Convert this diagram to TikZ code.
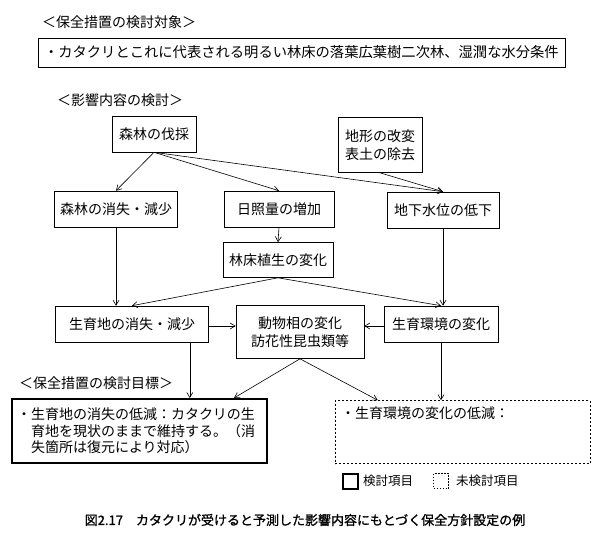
\documentclass[tikz,border=0pt]{standalone}
\usepackage{fontspec}
\setmainfont{Noto Sans CJK JP}
\newfontfamily\capfont[FakeBold=1]{Noto Sans CJK JP}
\usetikzlibrary{arrows.meta}
\begin{document}
\begin{tikzpicture}[x=1pt,y=-1pt,
  font=\fontsize{14}{18.5}\selectfont,
  box/.style={draw, line width=0.6pt, inner sep=0pt, minimum height=36pt, align=center},
  arr/.style={-{Straight Barb[length=5pt,width=6pt]}, line width=0.6pt},
  heading/.style={anchor=west, inner sep=0pt},
  legendtext/.style={anchor=west, inner sep=0pt, font=\fontsize{12.5}{15}\selectfont}]
\useasboundingbox (0,0) rectangle (600,555);
\fill[white] (0,0) rectangle (600,555);

\node[heading] (t1) at (42,22) {＜保全措置の検討対象＞};
\node[box, minimum width=527pt, minimum height=29pt] (obj) at (301.5,52.5)
  {\parbox{515pt}{\fontsize{14.3}{18}\selectfont ・カタクリとこれに代表される明るい林床の落葉広葉樹二次林、湿潤な水分条件}};

\node[heading] (t2) at (57,100) {＜影響内容の検討＞};

\node[box, minimum width=84pt] (fell) at (154,134) {森林の伐採};
\node[box, minimum width=84pt, minimum height=55pt] (terr) at (380,145) {地形の改変\\表土の除去};

\node[box, minimum width=123pt] (floss) at (116,209) {森林の消失・減少};
\node[box, minimum width=110pt] (sun) at (279,209) {日照量の増加};
\node[box, minimum width=112pt] (water) at (443,210) {地下水位の低下};

\node[box, minimum width=110pt, minimum height=35pt] (veg) at (278,260) {林床植生の変化};

\node[box, minimum width=153pt] (hab) at (132,324) {生育地の消失・減少};
\node[box, minimum width=128pt, minimum height=53pt] (fauna) at (300,332) {動物相の変化\\訪花性昆虫類等};
\node[box, minimum width=114pt] (env) at (441,324) {生育環境の変化};

\node[heading] (t3) at (19,383) {＜保全措置の検討目標＞};

\node[draw, line width=2pt, inner sep=0pt, minimum width=255pt, minimum height=64pt] (goal) at (139.5,431)
  {\parbox{245pt}{\fontsize{14}{16.5}\selectfont\makebox[1em][l]{・}生育地の消失の低減：カタクリの生\\\hspace*{1em}育地を現状のままで維持する。（消\\\hspace*{1em}失箇所は復元により対応）}};

\node[draw, line width=0.6pt, dash pattern=on 2pt off 2pt, inner sep=0pt, minimum width=255pt, minimum height=63pt] (dbox) at (462.5,432)
  {\parbox[c][63pt][t]{243pt}{\vspace{6pt}・生育環境の変化の低減：}};

\node[draw, line width=2pt, minimum size=15pt, inner sep=0pt] (lg1) at (350,481) {};
\node[legendtext] (lt1) at (363,481) {検討項目};
\node[draw, line width=0.6pt, dash pattern=on 1.5pt off 1.5pt, minimum size=15pt, inner sep=0pt] (lg2) at (441,481) {};
\node[legendtext] (lt2) at (456,481) {未検討項目};

\node[inner sep=0pt, font=\capfont\fontsize{13}{15}\selectfont] (cap) at (305,520)
  {図2.17\hspace{1em}カタクリが受けると予測した影響内容にもとづく保全方針設定の例};

% connectors
\draw[arr] (fell.south) -- (floss.north);
\draw[arr] (fell.south) -- (sun.north);
\draw[arr] (fell.south) -- (water.north);
\draw[arr] (terr.south) -- (water.north);
\draw[arr] (sun.south) -- (veg.north);
\draw[arr] (floss.south) -- (floss.south |- hab.north);
\draw[arr] (veg.south) -- (hab.north);
\draw[arr] (veg.south) -- (env.north);
\draw[arr] (water.south) -- (water.south |- env.north);
\draw[arr] ([yshift=-2pt]hab.east) -- ([yshift=-2pt]hab.east -| fauna.west);
\draw[arr] ([yshift=-2pt]env.west) -- ([yshift=-2pt]env.west -| fauna.east);
\draw[arr] ([xshift=-19pt]hab.south east) -- ([xshift=-19pt]hab.south east |- goal.north);
\draw[arr] (fauna.south) -- ([xshift=-34pt]goal.north east);
\draw[arr] (fauna.south) -- ([xshift=43pt]dbox.north west);
\draw[arr] (env.south) -- (env.south |- dbox.north);
\end{tikzpicture}
\end{document}
